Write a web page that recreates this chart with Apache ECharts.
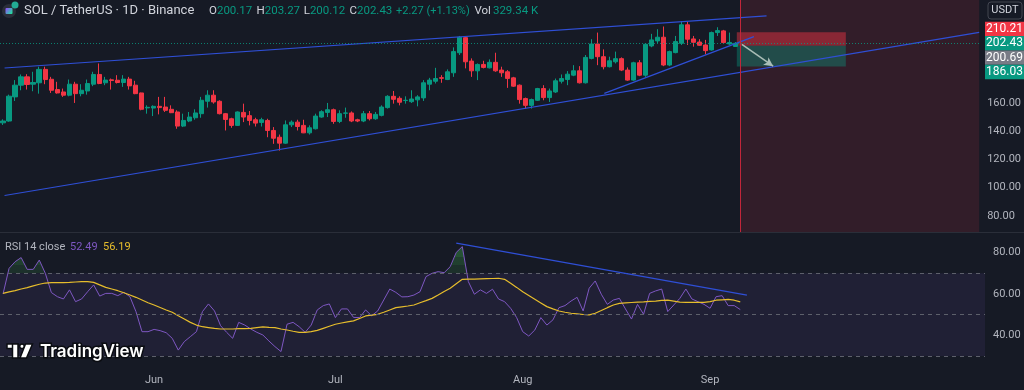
<!DOCTYPE html>
<html><head><meta charset="utf-8">
<script src="https://cdn.jsdelivr.net/npm/echarts@6/dist/echarts.min.js"></script>
<style>html,body{margin:0;padding:0;background:#161a25;}#c{width:1024px;height:390px;}</style>
</head><body><div id="c"></div>
<script>
// ---------- DATA ----------
const firstDay = [2025, 4, 7];          // 2025-05-07 (UTC month index 4)
const totalSlots = 163;                  // days on the time axis (incl. empty future)
const monthLabels = {'06': 'Jun', '07': 'Jul', '08': 'Aug', '09': 'Sep'};

// daily candles [open, high, low, close], 2025-05-07 .. 2025-09-06
const candles = [
[146.0,148.5,144.5,147.3],[147.3,166.0,146.8,164.9],[164.4,176.3,161.5,172.7],[172.7,180.3,169.1,178.6],
[178.6,180.5,169.6,173.2],[173.4,182.2,168.4,174.6],[174.4,185.8,166.7,183.9],[183.9,185.8,173.4,176.7],
[176.9,178.6,167.2,169.1],[169.6,175.1,166.7,167.2],[167.9,170.3,164.4,165.6],[165.6,176.7,164.8,173.4],
[173.4,175.1,160.1,166.7],[166.7,173.4,164.8,169.1],[168.6,176.7,166.0,173.9],[173.4,182.2,172.0,180.3],
[180.3,188.1,173.4,173.9],[174.4,178.6,172.7,176.3],[176.5,177.4,169.6,176.0],[176.2,179.8,173.9,174.6],
[174.6,179.8,171.5,177.0],[177.0,178.6,169.6,172.2],[172.7,175.8,166.3,166.7],[167.2,167.4,154.9,155.6],
[156.6,158.4,152.5,157.0],[156.5,158.4,150.8,157.7],[157.7,164.4,152.0,156.8],[157.2,164.4,153.7,154.9],
[155.6,158.4,152.9,153.2],[153.7,154.9,141.8,143.7],[143.7,152.5,143.0,147.7],[147.3,153.7,146.5,150.1],
[149.6,155.6,148.2,153.0],[152.5,164.4,149.6,162.0],[161.3,169.1,156.8,165.6],[165.6,169.1,159.6,160.8],
[161.3,162.0,152.0,152.5],[152.5,153.0,140.6,148.4],[148.9,149.6,142.5,144.2],[144.2,154.1,143.8,153.7],
[153.4,159.6,146.5,150.1],[151.1,154.4,144.2,147.7],[148.2,149.6,143.4,145.8],[146.3,149.6,143.4,148.2],
[147.7,148.9,135.8,140.6],[140.6,143.0,131.1,135.1],[135.8,137.7,126.3,131.6],[131.6,147.7,131.1,144.6],
[144.6,147.7,143.0,146.5],[146.5,148.2,140.6,143.4],[144.2,148.2,138.7,138.9],[138.9,144.2,137.7,142.5],
[141.8,152.5,141.3,150.8],[150.1,154.9,149.6,153.9],[153.4,160.1,150.1,155.3],[155.3,156.1,145.3,147.0],
[147.0,154.9,145.8,152.5],[152.8,156.8,149.6,153.0],[153.0,154.1,146.5,147.3],[148.2,148.9,146.5,147.3],
[147.3,154.4,146.5,152.5],[152.5,154.4,147.7,148.9],[148.9,153.7,148.2,152.0],[151.3,158.4,150.6,157.2],
[156.8,165.6,156.1,164.8],[164.8,168.6,159.6,162.7],[163.4,164.8,158.4,160.6],[161.8,164.8,159.6,162.0],
[161.0,169.1,160.1,162.9],[162.3,165.6,157.7,164.4],[163.7,176.3,161.5,174.4],[173.4,177.9,169.1,176.3],
[175.5,185.0,173.9,177.4],[178.0,179.8,174.4,177.6],[176.7,183.9,176.3,182.2],[181.5,199.5,178.6,196.5],
[195.7,207.6,194.1,206.7],[206.4,207.2,184.6,189.3],[189.8,191.7,178.6,182.9],[182.9,188.1,176.3,187.4],
[187.4,190.0,184.6,185.3],[185.0,191.0,184.6,188.9],[188.9,195.7,182.2,182.9],[183.4,185.8,178.6,181.5],
[182.2,183.4,170.8,177.5],[177.9,178.6,171.5,172.0],[172.7,173.2,159.6,162.5],[163.2,163.9,156.1,158.4],
[158.4,163.2,156.1,162.5],[162.0,170.8,161.5,170.3],[170.3,172.7,162.0,163.9],[163.9,170.3,160.8,168.6],
[167.9,177.4,167.2,175.8],[175.5,180.3,173.9,177.4],[176.7,182.7,172.7,180.5],[179.8,186.9,179.1,182.9],
[182.9,186.2,173.9,174.4],[174.4,194.1,173.9,192.4],[191.7,205.3,191.0,201.9],[201.9,210.0,186.9,192.9],
[192.9,198.1,183.9,185.8],[185.8,192.9,185.3,190.0],[189.3,196.5,188.1,191.5],[191.5,192.4,182.7,183.4],
[183.4,185.3,175.8,176.3],[176.3,189.3,175.8,188.6],[188.6,190.5,179.1,179.8],[179.8,202.4,178.6,201.7],
[200.5,209.1,199.6,204.8],[204.1,212.4,202.4,206.7],[206.7,214.3,186.2,187.0],[187.0,197.2,186.2,196.5],
[195.8,207.6,195.3,203.6],[202.4,217.9,201.2,215.5],[215.5,217.9,201.2,205.3],[205.5,207.6,200.0,203.1],
[203.3,205.3,200.5,201.0],[201.2,204.8,194.6,197.2],[197.7,210.7,197.2,210.0],[210.0,213.8,207.6,211.4],
[211.2,211.9,202.4,202.9],[201.9,210.0,201.3,203.0],[200.17,203.27,200.12,202.43]
];

// RSI(14) and its moving average, read per day
const rsi = [60.0,72.4,75.6,77.6,71.9,71.9,76.4,70.0,60.7,58.7,57.6,62.0,56.3,57.6,61.1,64.4,59.0,60.3,60.3,59.2,
60.8,58.7,51.5,41.8,41.8,42.9,42.3,41.3,38.6,32.9,37.0,39.4,41.8,51.5,55.2,51.8,44.7,41.5,38.6,46.3,
45.0,43.1,41.5,40.2,37.3,34.6,32.2,45.4,46.3,44.2,41.5,45.0,52.3,54.4,55.2,48.6,52.8,52.8,48.7,48.6,
52.3,49.5,51.8,57.1,62.4,60.8,58.6,58.7,59.5,61.1,68.4,70.0,70.8,70.3,73.2,80.1,82.9,66.0,59.9,62.0,
60.3,62.3,57.6,56.3,53.1,48.6,41.8,39.7,42.6,48.6,45.0,47.5,53.4,54.4,56.6,58.4,51.8,62.8,66.3,59.9,
55.0,57.1,57.9,52.8,47.9,55.0,50.2,60.3,61.5,62.4,51.5,54.7,57.9,62.4,57.6,56.3,55.0,53.1,58.7,59.2,
54.4,54.4,52.49];
const rsiMa = [60.3,61.0,61.6,62.4,63.1,63.9,64.7,65.3,65.5,65.5,65.5,65.6,65.8,66.0,66.0,65.6,64.4,63.2,62.4,61.6,
60.6,59.5,58.4,57.1,55.8,54.7,53.5,52.3,51.2,49.5,47.9,46.3,45.0,44.2,43.8,43.4,43.1,43.1,43.1,43.3,
43.3,43.4,43.8,44.1,43.9,43.8,43.1,42.6,42.0,41.5,41.5,41.8,42.4,43.4,44.4,45.4,46.0,46.5,47.0,48.2,
49.4,49.8,50.2,51.2,52.3,53.4,53.8,54.2,54.7,55.8,56.8,57.9,59.5,61.2,62.8,65.0,67.1,67.2,67.2,67.3,
67.4,67.5,67.6,67.1,65.2,63.2,61.1,59.3,57.5,55.7,53.9,52.8,51.8,51.2,50.7,50.4,50.1,49.9,50.7,52.0,
53.4,54.7,55.5,55.7,55.9,56.1,56.2,56.4,56.6,56.9,57.0,56.6,56.1,56.0,56.0,56.0,56.0,56.3,57.0,57.2,
57.4,57.0,56.19];

// axis ticks
const priceTicks = [80, 100, 120, 140, 160];
const rsiTicks = [40, 60, 80];
const rsiLevels = [70, 50, 30];

// drawings: [dayIndex, price]
const channelUpper = [[0.26, 184.9], [127.1, 221.8]];
const channelLower = [[0.26, 94.5], [162.5, 210.2]];
const wedgeLower   = [[100.1, 166.9], [125.0, 207.1]];
const rsiTrend     = [[75.0, 84.6], [123.1, 59.5]];
const lastClose = 202.43;
const posEntry = 200.69, posStop = 210.21, posTarget = 186.03;
const posSpan = [122.15, 140.3];
const arrowPts = [[123.0, 201.6], [128.2, 186.2]];
const markerDay = 122.72;
const axisTagValues = [210.21, 202.43, 200.69, 186.03];
const axisTagColors = ['#f23645', '#089981', '#787b86', '#089981'];

// ---------- BUILD ----------
const categories = [];
const t0 = Date.UTC(firstDay[0], firstDay[1], firstDay[2]);
for (let i = 0; i < totalSlots; i++) categories.push(new Date(t0 + i * 86400000).toISOString().slice(0, 10));
const kData = candles.map(c => [c[0], c[3], c[2], c[1]]);

const FONT = 'Roboto, "Noto Sans", sans-serif';
const GL = -4.6, GR = 39;
const lineBlue = '#2f4fd6';

const chart = echarts.init(document.getElementById('c'), null, {renderer: 'canvas'});
const option = {
  backgroundColor: '#161a25',
  animation: false,
  textStyle: {fontFamily: FONT},
  grid: [
    {left: GL, right: GR, top: 0, height: 232},
    {left: GL, right: GR, top: 233, height: 137}
  ],
  xAxis: [
    {type: 'category', gridIndex: 0, data: categories, boundaryGap: true,
     axisLine: {show: false}, axisTick: {show: false}, axisLabel: {show: false}, splitLine: {show: false}},
    {type: 'category', gridIndex: 1, data: categories, boundaryGap: true,
     axisLine: {show: false}, axisTick: {show: false}, splitLine: {show: false},
     axisLabel: {color: '#b2b5be', fontSize: 11, margin: 5, fontFamily: FONT,
       interval: (i, v) => v.slice(8) === '01' && monthLabels[v.slice(5, 7)] !== undefined,
       formatter: v => monthLabels[v.slice(5, 7)] || ''}},
    {type: 'value', gridIndex: 0, min: -0.5, max: totalSlots - 0.5, show: false},
    {type: 'value', gridIndex: 1, min: -0.5, max: totalSlots - 0.5, show: false}
  ],
  yAxis: [
    {type: 'value', gridIndex: 0, position: 'right', min: 68.6, max: 233.1,
     axisLine: {show: false}, axisTick: {show: false}, splitLine: {show: false},
     axisLabel: {customValues: priceTicks, color: '#b2b5be', fontSize: 11, margin: 8, fontFamily: FONT,
       formatter: v => v.toFixed(2)}},
    {type: 'value', gridIndex: 1, position: 'right', min: 23.29, max: 89.47,
     axisLine: {show: false}, axisTick: {show: false}, splitLine: {show: false},
     axisLabel: {customValues: rsiTicks, color: '#b2b5be', fontSize: 11, margin: 8, fontFamily: FONT,
       formatter: v => v.toFixed(2)}}
  ],
  visualMap: [{
    type: 'piecewise', show: false, seriesIndex: 1,
    pieces: [
      {lt: 70, color: 'rgba(0,0,0,0)'},
      {gte: 70, lt: 74, color: 'rgba(56,150,70,0.18)'},
      {gte: 74, lt: 78, color: 'rgba(56,150,70,0.3)'},
      {gte: 78, color: 'rgba(56,150,70,0.45)'}
    ]
  }],
  series: [
    {type: 'candlestick', xAxisIndex: 0, yAxisIndex: 0, data: kData, barWidth: 4.6, z: 3,
     itemStyle: {color: '#089981', color0: '#f23645', borderColor: '#089981', borderColor0: '#f23645', borderWidth: 1}},
    {type: 'line', xAxisIndex: 1, yAxisIndex: 1, data: rsi, symbol: 'none', z: 2,
     lineStyle: {width: 0}, areaStyle: {opacity: 1}},
    {type: 'line', xAxisIndex: 1, yAxisIndex: 1, data: rsi, symbol: 'none', z: 4,
     lineStyle: {color: '#7e57c2', width: 1}},
    {type: 'line', xAxisIndex: 1, yAxisIndex: 1, data: rsiMa, symbol: 'none', z: 4,
     lineStyle: {color: '#e6bd2c', width: 1.2}},
    {type: 'line', xAxisIndex: 2, yAxisIndex: 0, data: channelUpper, symbol: 'none', z: 4,
     lineStyle: {color: lineBlue, width: 1.2}},
    {type: 'line', xAxisIndex: 2, yAxisIndex: 0, data: channelLower, symbol: 'none', z: 4,
     lineStyle: {color: lineBlue, width: 1.2}},
    {type: 'line', xAxisIndex: 2, yAxisIndex: 0, data: wedgeLower, symbol: 'none', z: 4,
     lineStyle: {color: lineBlue, width: 1.2}},
    {type: 'line', xAxisIndex: 3, yAxisIndex: 1, data: rsiTrend, symbol: 'none', z: 5,
     lineStyle: {color: lineBlue, width: 1.2}},
    // price-pane drawings
    {type: 'line', xAxisIndex: 2, yAxisIndex: 0, data: [], z: 6, silent: true,
     markArea: {silent: true, label: {show: false}, data: [
       [{xAxis: markerDay, itemStyle: {color: 'rgba(242,54,69,0.13)'}}, {xAxis: totalSlots - 0.5}],
       [{coord: [posSpan[0], posStop], itemStyle: {color: 'rgba(242,54,69,0.45)'}}, {coord: [posSpan[1], posEntry]}],
       [{coord: [posSpan[0], posEntry], itemStyle: {color: 'rgba(8,153,129,0.38)'}}, {coord: [posSpan[1], posTarget]}]
     ]},
     markLine: {silent: true, label: {show: false}, symbol: ['none', 'none'], data: [
       {xAxis: markerDay, lineStyle: {color: '#c2263a', width: 1, type: 'solid'}},
       {yAxis: lastClose, lineStyle: {color: '#089981', width: 1, type: [1, 2], opacity: 0.8}},
       [{coord: arrowPts[0], symbol: 'none', lineStyle: {color: '#a9bdb6', width: 1.6, type: 'solid'}},
        {coord: arrowPts[1], symbol: 'arrow', symbolSize: [7, 9]}]
     ]}},
    // RSI band and levels
    {type: 'line', xAxisIndex: 3, yAxisIndex: 1, data: [], z: 1, silent: true,
     markArea: {silent: true, label: {show: false}, data: [
       [{yAxis: rsiLevels[2], itemStyle: {color: 'rgba(126,87,194,0.1)'}}, {yAxis: rsiLevels[0]}]
     ]},
     markLine: {silent: true, label: {show: false}, symbol: ['none', 'none'],
       lineStyle: {color: '#5d606b', width: 1, type: [4, 4]},
       data: rsiLevels.map(v => ({yAxis: v}))}}
  ]
};
chart.setOption(option);

// ---------- overlays: axis tags, legends, logo ----------
const tagH = 14.4;
const ys = axisTagValues.map(v => chart.convertToPixel({yAxisIndex: 0}, v));
const anchor = axisTagValues.indexOf(lastClose);
const pos = ys.slice();
for (let k = anchor - 1; k >= 0; k--) pos[k] = Math.min(ys[k], pos[k + 1] - tagH);
for (let k = anchor + 1; k < pos.length; k++) pos[k] = Math.max(ys[k], pos[k - 1] + tagH);

const g = [];
g.push({type: 'line', shape: {x1: 0, y1: 232.5, x2: 1024, y2: 232.5}, style: {stroke: '#2a2e39', lineWidth: 1}, z: 50});
axisTagValues.forEach((v, k) => {
  g.push({type: 'rect', shape: {x: 985, y: pos[k] - tagH / 2, width: 39, height: tagH}, style: {fill: axisTagColors[k]}, z: 60});
  g.push({type: 'text', x: 1004.5, y: pos[k], z: 61,
    style: {text: v.toFixed(2), fill: '#ffffff', font: '12px ' + FONT, align: 'center', verticalAlign: 'middle'}});
});
g.push({type: 'rect', shape: {x: 988, y: 2, width: 34, height: 17, r: 3}, style: {fill: '#161a25', stroke: '#434651', lineWidth: 1}, z: 60});
g.push({type: 'text', x: 1005, y: 10.5, z: 61, style: {text: 'USDT', fill: '#d1d4dc', font: '11px ' + FONT, align: 'center', verticalAlign: 'middle'}});

// symbol icon
g.push({type: 'circle', shape: {cx: 9, cy: 11, r: 7}, style: {fill: '#2a2e39'}, z: 60});
g.push({type: 'rect', shape: {x: 5.5, y: 8, width: 7, height: 6, r: 1},
  style: {fill: new echarts.graphic.LinearGradient(0, 0, 1, 1, [{offset: 0, color: '#9945ff'}, {offset: 1, color: '#14f195'}])}, z: 61});
g.push({type: 'circle', shape: {cx: 15, cy: 5, r: 3.5}, style: {fill: '#22ab94'}, z: 62});

g.push({type: 'text', x: 24, y: 11, z: 60, style: {text: 'SOL / TetherUS · 1D · Binance', fill: '#d1d4dc', font: '13px ' + FONT, verticalAlign: 'middle'}});
const ohlcItems = [['O', '200.17', 209], ['H', '203.27', 256.5], ['L', '200.12', 303.7], ['C', '202.43', 349.5]];
ohlcItems.forEach(it => {
  g.push({type: 'text', x: it[2], y: 11, z: 60, style: {text: '{k|' + it[0] + '}{v|' + it[1] + '}', verticalAlign: 'middle',
    rich: {k: {fill: '#d1d4dc', font: '11.5px ' + FONT}, v: {fill: '#089981', font: '11.5px ' + FONT}}}});
});
g.push({type: 'text', x: 396, y: 11, z: 60, style: {text: '+2.27 (+1.13%)', fill: '#089981', font: '11px ' + FONT, verticalAlign: 'middle'}});
g.push({type: 'text', x: 474.5, y: 11, z: 60, style: {text: '{k|Vol}{v|329.34 K}', verticalAlign: 'middle',
  rich: {k: {fill: '#d1d4dc', font: '11.5px ' + FONT, padding: [0, 2, 0, 0]}, v: {fill: '#089981', font: '11.5px ' + FONT}}}});

g.push({type: 'text', x: 5, y: 247.5, z: 60, style: {text: 'RSI 14 close', fill: '#b2b5be', font: '11px ' + FONT, verticalAlign: 'middle'}});
g.push({type: 'text', x: 70, y: 247.5, z: 60, style: {text: '52.49', fill: '#7e57c2', font: '11px ' + FONT, verticalAlign: 'middle'}});
g.push({type: 'text', x: 103, y: 247.5, z: 60, style: {text: '56.19', fill: '#e6bd2c', font: '11px ' + FONT, verticalAlign: 'middle'}});

// TradingView logo
const logoStyle = {fill: '#ffffff', stroke: '#0b0d12', lineWidth: 1.5};
g.push({type: 'rect', shape: {x: 7, y: 344, width: 11, height: 4.5}, style: logoStyle, z: 70});
g.push({type: 'rect', shape: {x: 12.5, y: 344, width: 5.5, height: 14}, style: logoStyle, z: 70});
g.push({type: 'circle', shape: {cx: 22, cy: 346.3, r: 2.3}, style: logoStyle, z: 70});
g.push({type: 'polygon', shape: {points: [[25.5, 344], [32.5, 344], [26.5, 358], [20, 358]]}, style: logoStyle, z: 70});
g.push({type: 'text', x: 40, y: 352, z: 70, style: {text: 'TradingView', fill: '#ffffff', font: '600 17px Inter, ' + FONT,
  verticalAlign: 'middle', stroke: '#0b0d12', lineWidth: 3}});

chart.setOption({graphic: g});
</script></body></html>
